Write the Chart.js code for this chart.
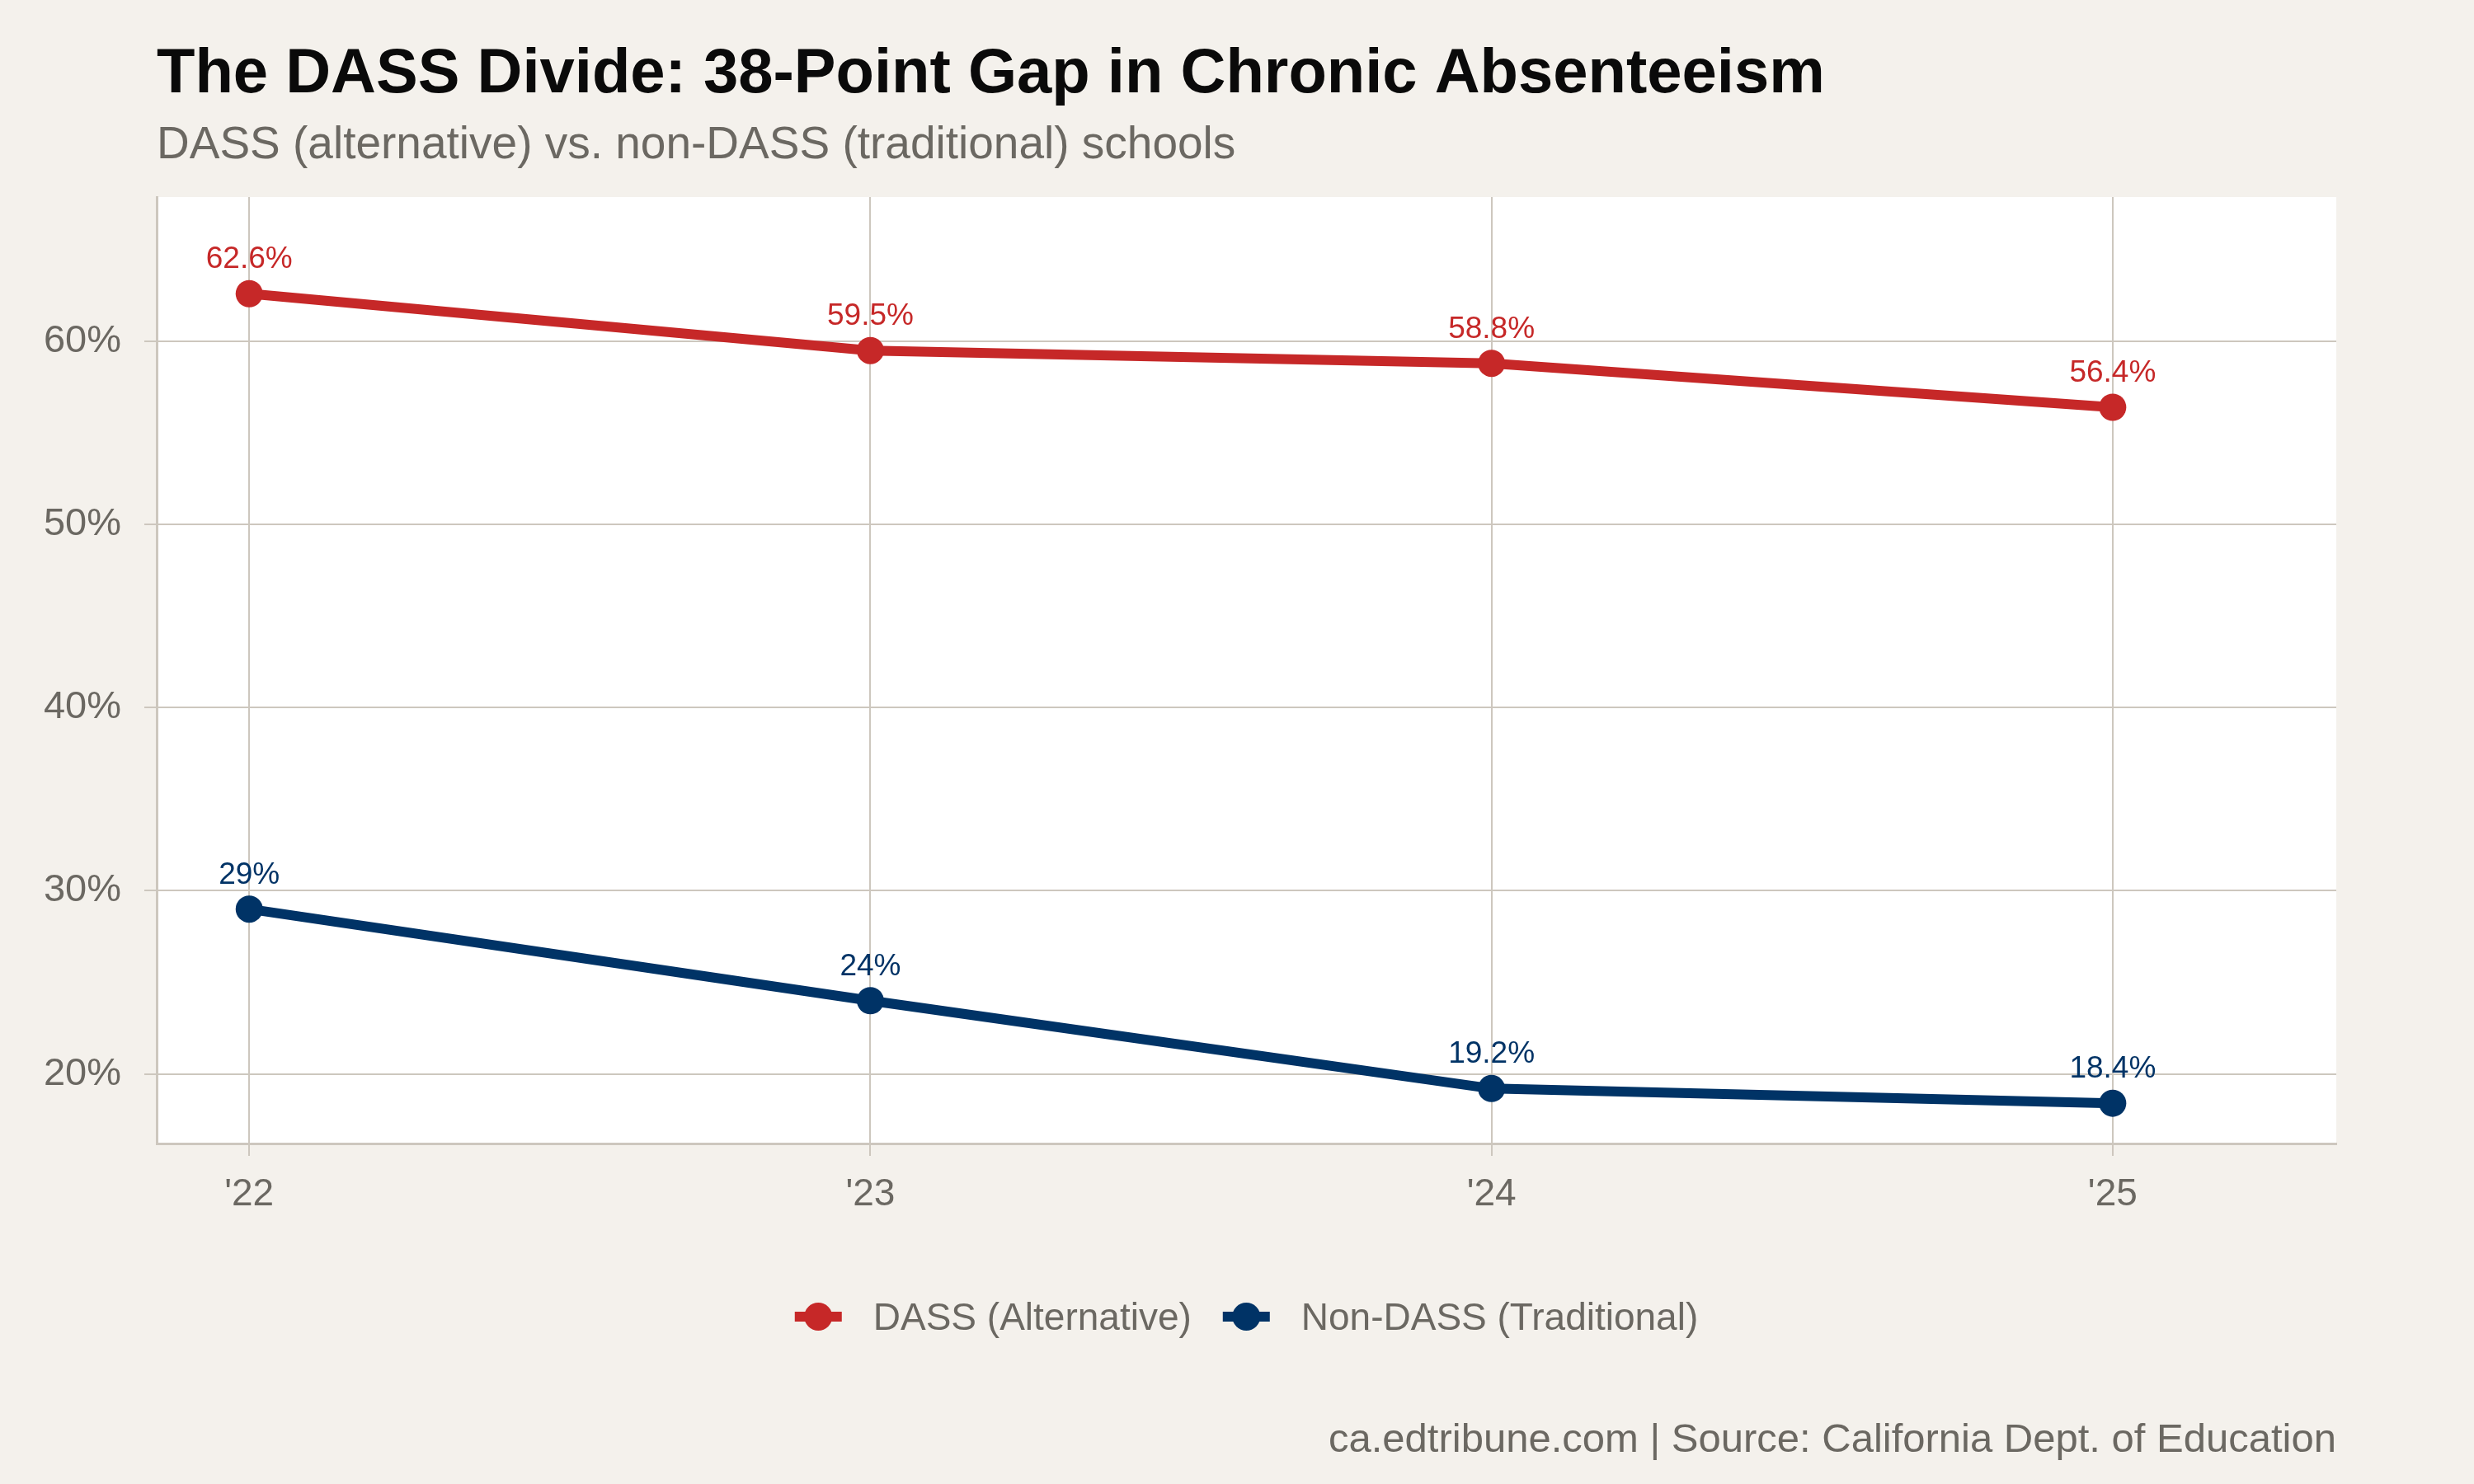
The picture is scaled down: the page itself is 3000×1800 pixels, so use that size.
<!DOCTYPE html>
<html>
<head>
<meta charset="utf-8">
<script src="https://cdn.jsdelivr.net/npm/chart.js@4.4.1/dist/chart.umd.min.js"></script>
<style>
  html, body { margin: 0; padding: 0; background: #f4f1ec; }
  canvas { display: block; }
</style>
</head>
<body>
<canvas id="grafico" width="3000" height="1800"></canvas>
<script>
// Dados do gráfico
const anos = ["'22", "'23", "'24", "'25"];
const dass = [62.6, 59.5, 58.8, 56.4];
const naoDass = [29, 24, 19.2, 18.4];
const yTicks = [20, 30, 40, 50, 60];
const nomesSeries = ['DASS (Alternative)', 'Non-DASS (Traditional)'];

const titulo = 'The DASS Divide: 38-Point Gap in Chronic Absenteeism';
const subtitulo = 'DASS (alternative) vs. non-DASS (traditional) schools';
const rodape = 'ca.edtribune.com | Source: California Dept. of Education';

const FONTE = "'Liberation Sans', Arial, Helvetica, sans-serif";
const corVermelho = '#c62828';
const corAzul = '#003366';
const corTexto = '#6b6862';
const corGrade = '#cdc7be';

// Fundo bege e painel branco
const fundoPlugin = {
  id: 'fundo',
  beforeDraw(chart) {
    const { ctx, chartArea: a } = chart;
    ctx.save();
    ctx.fillStyle = '#f4f1ec';
    ctx.fillRect(0, 0, chart.width, chart.height);
    ctx.fillStyle = '#ffffff';
    ctx.fillRect(a.left, a.top, a.right - a.left, a.bottom - a.top);
    ctx.restore();
  }
};

// Textos: título, subtítulo, rótulos, legenda e fonte
const textosPlugin = {
  id: 'textos',
  afterDraw(chart) {
    const { ctx, chartArea: a } = chart;
    ctx.save();
    ctx.textBaseline = 'alphabetic';

    ctx.fillStyle = '#0a0a0a';
    ctx.font = `bold 76px ${FONTE}`;
    ctx.textAlign = 'left';
    ctx.fillText(titulo, 190, 112);

    ctx.fillStyle = corTexto;
    ctx.font = `55px ${FONTE}`;
    ctx.fillText(subtitulo, 190, 192);

    // rótulos dos pontos
    ctx.font = `37px ${FONTE}`;
    ctx.textAlign = 'center';
    chart.data.datasets.forEach((ds, i) => {
      const meta = chart.getDatasetMeta(i);
      ctx.fillStyle = ds.borderColor;
      meta.data.forEach((pt, j) => {
        ctx.fillText(ds.data[j].y + '%', pt.x, pt.y - 31);
      });
    });

    // legenda
    ctx.font = `46px ${FONTE}`;
    const larguraMarca = 57, gap = 38;
    const itens = chart.data.datasets.map(ds => ({
      cor: ds.borderColor, texto: ds.label, w: ctx.measureText(ds.label).width
    }));
    let total = 0;
    itens.forEach((it, i) => { total += larguraMarca + gap + it.w + (i < itens.length - 1 ? gap : 0); });
    let x = (a.left + a.right) / 2 - total / 2;
    const yLeg = 1597;
    ctx.textAlign = 'left';
    itens.forEach(it => {
      ctx.strokeStyle = it.cor;
      ctx.lineWidth = 12;
      ctx.beginPath();
      ctx.moveTo(x, yLeg);
      ctx.lineTo(x + larguraMarca, yLeg);
      ctx.stroke();
      ctx.fillStyle = it.cor;
      ctx.beginPath();
      ctx.arc(x + larguraMarca / 2, yLeg, 17, 0, Math.PI * 2);
      ctx.fill();
      x += larguraMarca + gap;
      ctx.fillStyle = corTexto;
      ctx.fillText(it.texto, x, 1613);
      x += it.w + gap;
    });

    // fonte
    ctx.font = `49px ${FONTE}`;
    ctx.textAlign = 'right';
    ctx.fillStyle = corTexto;
    ctx.fillText(rodape, a.right, 1761);
    ctx.restore();
  }
};

const serie = (valores) => valores.map((v, i) => ({ x: i, y: v }));

const ctx = document.getElementById('grafico').getContext('2d');
new Chart(ctx, {
  type: 'line',
  data: {
    datasets: [
      {
        label: nomesSeries[0],
        data: serie(dass),
        borderColor: corVermelho,
        backgroundColor: corVermelho,
        borderWidth: 12,
        pointRadius: 16.5,
        pointBorderWidth: 0,
        tension: 0
      },
      {
        label: nomesSeries[1],
        data: serie(naoDass),
        borderColor: corAzul,
        backgroundColor: corAzul,
        borderWidth: 12,
        pointRadius: 16.5,
        pointBorderWidth: 0,
        tension: 0
      }
    ]
  },
  options: {
    responsive: false,
    animation: false,
    devicePixelRatio: 1,
    layout: { padding: { top: 239, right: 167, bottom: 0, left: 0 } },
    plugins: {
      legend: { display: false },
      title: { display: false },
      tooltip: { enabled: false }
    },
    scales: {
      x: {
        type: 'linear',
        min: -0.149,
        max: 3.36,
        afterBuildTicks: s => { s.ticks = anos.map((_, i) => ({ value: i })); },
        afterFit: s => { s.height = 413; },
        ticks: {
          callback: v => anos[v],
          color: corTexto,
          font: { family: FONTE, size: 46 },
          padding: 20,
          maxRotation: 0
        },
        grid: { color: corGrade, lineWidth: 2, tickLength: 15, tickColor: corGrade },
        border: { display: true, color: corGrade, width: 3 }
      },
      y: {
        min: 16.2,
        max: 67.88,
        afterBuildTicks: s => { s.ticks = yTicks.map(v => ({ value: v })); },
        afterFit: s => { s.width = 190; },
        ticks: {
          callback: v => v + '%',
          color: corTexto,
          font: { family: FONTE, size: 47 },
          padding: 28
        },
        grid: { color: corGrade, lineWidth: 2, tickLength: 15, tickColor: corGrade },
        border: { display: true, color: corGrade, width: 3 }
      }
    }
  },
  plugins: [fundoPlugin, textosPlugin]
});
</script>
</body>
</html>
